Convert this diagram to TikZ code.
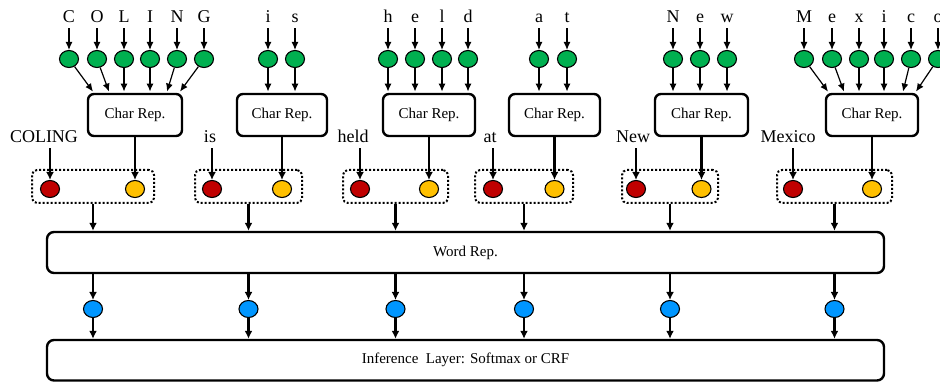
\documentclass[tikz,border=0pt]{standalone}
\usepackage{fontspec}
\setmainfont{Liberation Serif}
\usetikzlibrary{arrows.meta,shapes.geometric,calc}
\definecolor{cgreen}{RGB}{0,176,80}
\definecolor{cred}{RGB}{192,0,0}
\definecolor{cyellow}{RGB}{255,192,0}
\definecolor{cblue}{RGB}{0,150,255}
\tikzset{
  letter/.style={font=\fontsize{18}{20}\selectfont, inner xsep=0pt, inner ysep=5pt, text depth=0pt, anchor=base},
  dotnode/.style={ellipse, draw, line width=1.1pt, minimum width=19pt, minimum height=17pt, inner sep=0pt},
  gdot/.style={dotnode, fill=cgreen},
  rdot/.style={dotnode, fill=cred},
  ydot/.style={dotnode, fill=cyellow},
  bdot/.style={dotnode, fill=cblue},
  charbox/.style={draw, line width=2.4pt, rounded corners=6pt, minimum height=42pt, inner sep=0pt, font=\fontsize{15}{17}\selectfont},
  bigbox/.style={draw, line width=2.4pt, rounded corners=7pt, minimum width=837pt, inner sep=0pt, font=\fontsize{15}{17}\selectfont},
  dbox/.style={draw, line width=2pt, dash pattern=on 2pt off 2pt, rounded corners=5pt, minimum height=33pt, inner sep=0pt},
  tarr/.style={-{Latex[length=8pt,width=7pt]}, line width=1.2pt},
  karr/.style={-{Latex[length=8pt,width=8pt]}, line width=2.2pt}
}
\newcommand\CharGroup[4]{%
  \node[charbox, minimum width=#3] (b#1) at (#2,115) {Char Rep.};
  \foreach \t/\x/\tx [count=\i] in {#4} {
    \node[letter] (l#1-\i) at (\x,23) {\t};
    \node[gdot] (g#1-\i) at (\x,59) {};
    \draw[tarr] (l#1-\i.south) -- (g#1-\i);
    \draw[tarr] (g#1-\i) -- ($(b#1.north)+(\tx-#2,-1.2)$);
  }
}
\newcommand\WordGroup[7]{%
  \node[letter] (w#1) at (#2,143) {#3};
  \node[rdot] (r#1) at (#4,189) {};
  \node[ydot] (y#1) at (#5,189) {};
  \node[dbox, minimum width=#7] (d#1) at (#6,186.5) {};
  \draw[karr] (r#1 |- w#1.south) -- (r#1);
  \draw[karr] (b#1.south -| y#1) -- (y#1);
}
\begin{document}
\begin{tikzpicture}[x=1pt,y=-1pt]
\useasboundingbox (0,0) rectangle (940,382);
\CharGroup{1}{135}{94pt}{C/69/93, O/97/109, L/124/124, I/150/150, N/177/167, G/204/180}
\CharGroup{2}{282}{90pt}{i/268/268, s/295/295}
\CharGroup{3}{429}{92pt}{h/388/388, e/415/415, l/442/442, d/468/468}
\CharGroup{4}{554.5}{91pt}{a/539/539, t/567/567}
\CharGroup{5}{701.5}{93pt}{N/673/673, e/700/700, w/727/727}
\CharGroup{6}{872}{92pt}{M/804/828, e/832/844, x/859/859, i/884/884, c/911/903, o/938/916}
\WordGroup{1}{44}{COLING}{50}{135}{93}{122pt}
\WordGroup{2}{210}{is}{212}{282}{248.5}{107pt}
\WordGroup{3}{353}{held}{360}{429}{395.5}{105pt}
\WordGroup{4}{490}{at}{493}{554.5}{524}{98pt}
\WordGroup{5}{633}{New}{636}{701.5}{670}{96pt}
\WordGroup{6}{788}{Mexico}{793}{872}{834.5}{115pt}
\node[bigbox, minimum height=41pt] (word) at (465.5,252.5) {Word Rep.};
\node[bigbox, minimum height=40.5pt] (inf) at (465.5,360.25) {Inference\ \ Layer: Softmax or CRF};
\coordinate (yb) at (0,309);
\foreach \i in {1,...,6} {
  \node[bdot] (u\i) at (d\i.south |- yb) {};
  \draw[karr] (d\i.south) -- (d\i.south |- word.north);
  \draw[karr] (word.south -| u\i) -- (u\i);
  \draw[karr] (u\i) -- (u\i |- inf.north);
}
\end{tikzpicture}
\end{document}
